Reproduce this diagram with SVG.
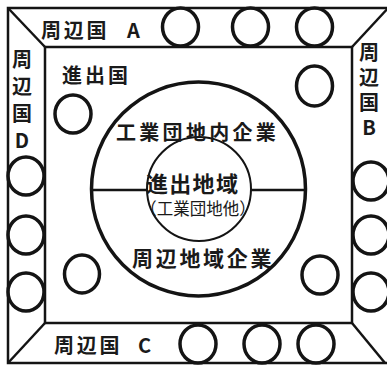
<svg xmlns="http://www.w3.org/2000/svg" width="387" height="365" viewBox="0 0 387 365">
<style>
.ln{fill:none;stroke:#141414;stroke-width:2.5}
.c{fill:none;stroke:#141414;stroke-width:3.5}
.t{font-family:"Noto Sans CJK JP","Noto Sans",sans-serif;font-weight:bold;fill:#1a1a1a;dominant-baseline:central}
.s{font-family:"Noto Sans CJK JP","Noto Sans",sans-serif;font-weight:normal;fill:#1a1a1a;dominant-baseline:central}
.v{font-family:"Noto Sans CJK JP","Noto Sans",sans-serif;font-weight:bold;fill:#1a1a1a;writing-mode:vertical-rl;text-orientation:upright}
.m{text-anchor:middle}
</style>
<rect width="387" height="365" fill="#fff"/>
<g id="connectors">
<rect class="ln" x="8" y="8" width="381" height="355"/>
<rect class="ln" x="45" y="47" width="307" height="276"/>
<line class="ln" x1="8" y1="8" x2="45" y2="47"/>
<line class="ln" x1="352" y1="47" x2="390" y2="6"/>
<line class="ln" x1="45" y1="323" x2="8" y2="363"/>
<line class="ln" x1="352" y1="323" x2="385" y2="363"/>
<line class="ln" x1="91" y1="190" x2="147" y2="190"/>
<line class="ln" x1="251" y1="190" x2="306" y2="190"/>
</g>
<g id="outer-circle"><circle class="c" cx="198.5" cy="189" r="107"/></g>
<g id="inner-circle"><circle fill="none" stroke="#141414" stroke-width="2" cx="199" cy="189" r="52"/></g>
<g id="circles-top">
<ellipse class="c" cx="180.5" cy="27" rx="18" ry="19"/>
<ellipse class="c" cx="250.5" cy="27" rx="18" ry="19"/>
<ellipse class="c" cx="314.5" cy="27" rx="18" ry="19"/>
</g>
<g id="circles-left">
<ellipse class="c" cx="26" cy="176" rx="18" ry="19"/>
<ellipse class="c" cx="26" cy="235" rx="18" ry="19"/>
<ellipse class="c" cx="26" cy="292" rx="18" ry="19"/>
</g>
<g id="circles-right">
<ellipse class="c" cx="371" cy="181" rx="18" ry="19"/>
<ellipse class="c" cx="371" cy="235" rx="18" ry="19"/>
<ellipse class="c" cx="371" cy="292" rx="18" ry="19"/>
</g>
<g id="circles-bottom">
<ellipse class="c" cx="198" cy="344" rx="18" ry="19"/>
<ellipse class="c" cx="262" cy="344" rx="18" ry="19"/>
<ellipse class="c" cx="316" cy="344" rx="18" ry="19"/>
</g>
<g id="circles-inner">
<ellipse class="c" cx="73" cy="114" rx="18" ry="19"/>
<ellipse class="c" cx="314.5" cy="86" rx="18" ry="20"/>
<ellipse class="c" cx="82" cy="274" rx="17.5" ry="19"/>
<ellipse class="c" cx="320" cy="275" rx="18" ry="19"/>
</g>
<g id="label-A">
<text class="t" x="41" y="29" font-size="20" letter-spacing="2.7">周辺国</text>
<text class="t" x="127" y="29" font-size="20">A</text>
</g>
<g id="label-C">
<text class="t" x="54" y="344" font-size="20" letter-spacing="2.7">周辺国</text>
<text class="t" x="138" y="344" font-size="20">C</text>
</g>
<g id="label-D">
<text class="v" x="22" y="49" font-size="20" letter-spacing="7">周辺国D</text>
</g>
<g id="label-B">
<text class="v" x="369" y="42" font-size="20" letter-spacing="5">周辺国B</text>
</g>
<g id="label-shinshutsukoku">
<text class="t" x="62" y="74" font-size="20" letter-spacing="3">進出国</text>
</g>
<g id="label-kogyo">
<text class="t" x="116" y="131" font-size="20" letter-spacing="3.3">工業団地内企業</text>
</g>
<g id="label-chiiki">
<text class="t" x="146" y="182" font-size="22" letter-spacing="1.3">進出地域</text>
<text class="s m" x="198" y="208" font-size="16.5">（工業団地他）</text>
</g>
<g id="label-shuhen">
<text class="t" x="132" y="257" font-size="21" letter-spacing="2.7">周辺地域企業</text>
</g>
</svg>
